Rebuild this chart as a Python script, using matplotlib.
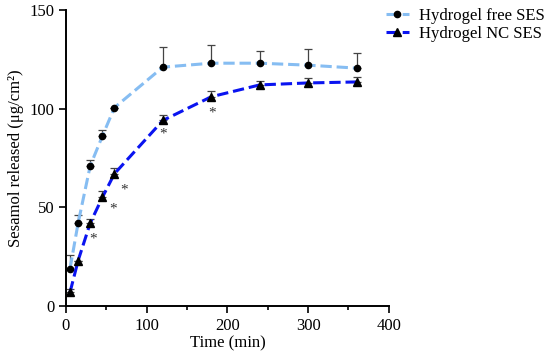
import matplotlib
matplotlib.use("Agg")
import matplotlib.pyplot as plt
from matplotlib.ticker import MultipleLocator

plt.rcParams["font.family"] = ["Liberation Serif", "DejaVu Serif"]

time_min = [5, 15, 30, 45, 60, 120, 180, 240, 300, 360]
free_ses = [19, 42, 71, 86, 100.5, 121, 123, 123, 122, 120.5]
free_err = [7, 4, 3, 3, 0, 10, 9, 6, 8, 7.5]
nc_ses = [7, 23, 42, 55, 67, 94, 106, 112, 113, 113.5]
nc_err = [1.5, 0, 2, 3.5, 3, 3, 3, 2, 2.5, 2.5]

star_x = [33, 58, 72, 120, 181]
star_y = [34, 49, 59, 87, 98]

fig = plt.figure(figsize=(5.5, 3.53), dpi=100)
ax = fig.add_axes([0.12, 0.133, 0.587, 0.839])

ax.errorbar(time_min, free_ses, yerr=[[0] * len(free_err), free_err], fmt="none",
            ecolor="#444444", elinewidth=0.9, capsize=3, capthick=0.9, zorder=2)
ax.errorbar(time_min, nc_ses, yerr=[[0] * len(nc_err), nc_err], fmt="none",
            ecolor="#444444", elinewidth=0.9, capsize=3, capthick=0.9, zorder=2)
ax.plot(time_min, free_ses, linestyle="--", color="#86bdf2", linewidth=2.2,
        marker="o", markersize=4.5, markerfacecolor="black", markeredgecolor="black",
        label="Hydrogel free SES", zorder=3)
ax.plot(time_min, nc_ses, linestyle="--", color="#0a14f0", linewidth=2.2,
        marker="^", markersize=5.5, markerfacecolor="black", markeredgecolor="black",
        label="Hydrogel NC SES", zorder=3)

for sx, sy in zip(star_x, star_y):
    ax.text(sx, sy, "*", ha="center", va="center", fontsize=11, color="#333333")

ax.set_xlim(0, 400)
ax.set_ylim(0, 150)
ax.xaxis.set_major_locator(MultipleLocator(100))
ax.xaxis.set_minor_locator(MultipleLocator(50))
ax.yaxis.set_major_locator(MultipleLocator(50))
ax.tick_params(axis="both", which="both", direction="out", width=1.2, labelsize=12)
ax.tick_params(which="major", length=5)
ax.tick_params(which="minor", length=3)
for side in ["top", "right"]:
    ax.spines[side].set_visible(False)
for side in ["left", "bottom"]:
    ax.spines[side].set_linewidth(1.4)

ax.set_xlabel("Time (min)", fontsize=12, labelpad=1)
ax.set_ylabel("Sesamol released (μg/cm²)", fontsize=12, labelpad=4)

ax.legend(loc="upper left", bbox_to_anchor=(0.97, 1.03), frameon=False, fontsize=12,
          handlelength=1.4, handletextpad=0.6, labelspacing=0.15, borderaxespad=0)

fig.savefig("out.png", dpi=100)
